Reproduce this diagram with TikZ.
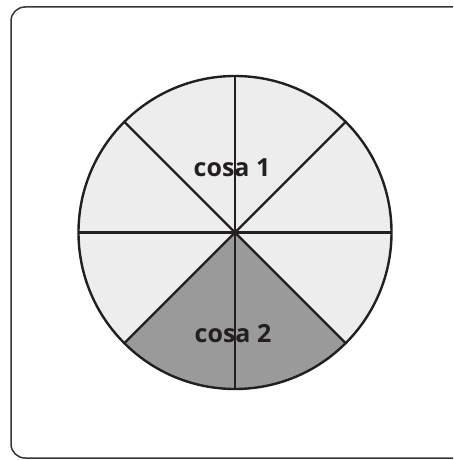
\documentclass[tikz,border=0pt]{standalone}
\usepackage{fontspec}
\setmainfont{Open Sans}
\usetikzlibrary{calc}
\definecolor{lightfill}{HTML}{EDEDED}
\definecolor{darkfill}{HTML}{9A9A9A}
\definecolor{ink}{HTML}{231F20}
\begin{document}
\begin{tikzpicture}[x=1pt,y=-1pt,
  spoke/.style={draw=ink,line width=2.4pt},
  label/.style={font=\fontsize{25}{29}\selectfont\bfseries,text=ink,anchor=base,inner sep=0pt}]
\useasboundingbox (0,0) rectangle (453,460);
\begin{scope}
\clip (0,0) rectangle (453,460);
\draw[draw=ink!90,line width=1.5pt,rounded corners=14pt] (11,7) rectangle (470,458);
\end{scope}
\coordinate (c) at (235,232.5);
\fill[lightfill] (c) circle[radius=156.5];
\fill[darkfill] (c) -- ++(45:156.5) arc[start angle=45,end angle=135,radius=156.5] -- cycle;
\foreach \a in {0,45,90,135} {
  \draw[spoke] ($(c)+(\a:156.5)$) -- ($(c)+(\a+180:156.5)$);
}
\draw[spoke] (c) circle[radius=156.5];
\node[label] (t1) at (232,176.5) {cosa 1};
\node[label] (t2) at (233,342.5) {cosa 2};
\end{tikzpicture}
\end{document}
